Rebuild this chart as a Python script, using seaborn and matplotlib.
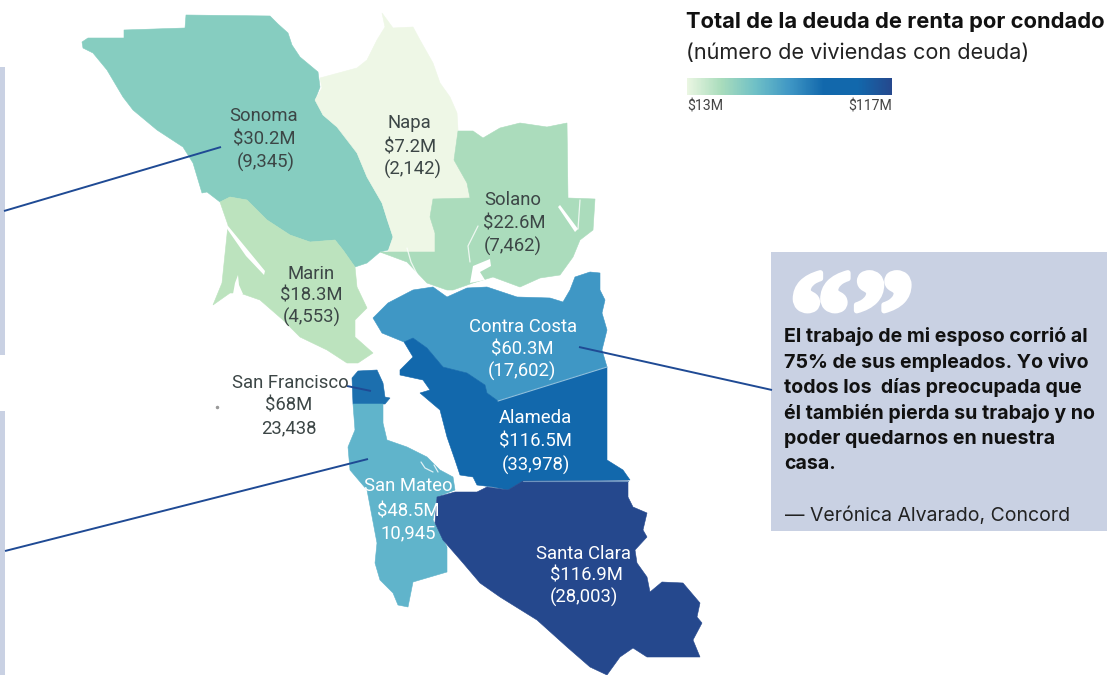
import matplotlib
matplotlib.use("Agg")
import matplotlib.pyplot as plt
import matplotlib.patheffects as pe
import numpy as np
import seaborn as sns

# datos por condado
condados = ["Sonoma", "Napa", "Solano", "Marin", "Contra Costa", "Alameda", "San Francisco", "San Mateo", "Santa Clara"]
deuda = ["$30.2M", "$7.2M", "$22.6M", "$18.3M", "$60.3M", "$116.5M", "$68M", "$48.5M", "$116.9M"]
viviendas = ["(9,345)", "(2,142)", "(7,462)", "(4,553)", "(17,602)", "(33,978)", "23,438", "10,945", "(28,003)"]
colores = ["#86CDC0", "#EEF7E6", "#ABDCBC", "#BCE3BE", "#3F97C5", "#1268AC", "#1C6FAE", "#60B4CB", "#25488D"]
rampa = ["#EAF6E2", "#A9DCBC", "#6FC0C6", "#3F97C5", "#1268AC", "#1268AC", "#25488D"]
escala = ["$13M", "$117M"]

titulo = "Total de la deuda de renta por condado"
subtitulo = "(número de viviendas con deuda)"
cita = ["El trabajo de mi esposo corrió al", "75% de sus empleados. Yo vivo", "todos los  días preocupada que",
        "él también pierda su trabajo y no", "poder quedarnos en nuestra", "casa."]
firma = "— Verónica Alvarado, Concord"

# contornos de los condados (en pixeles de la imagen)
contornos = {
    "Sonoma": [(82, 42), (88, 38), (124, 38), (124, 30), (185, 28), (186, 15), (270, 16), (278, 24), (288, 33),
               (292, 45), (300, 57), (318, 72), (320, 87), (315, 100), (323, 115), (337, 127), (347, 137), (357, 153),
               (367, 177), (382, 203), (387, 220), (393, 237), (388, 250), (380, 252), (367, 263), (355, 267),
               (343, 250), (335, 240), (310, 242), (290, 235), (267, 220), (247, 200), (230, 197), (220, 202),
               (207, 192), (202, 193), (193, 163), (183, 147), (157, 130), (133, 110), (123, 97), (107, 70),
               (93, 53), (83, 48)],
    "Napa": [(382, 13), (385, 27), (377, 40), (367, 60), (357, 68), (320, 78), (322, 88), (315, 100), (323, 115),
             (337, 127), (357, 153), (367, 177), (382, 203), (393, 237), (388, 252), (435, 252), (435, 233),
             (430, 217), (433, 199), (470, 198), (467, 183), (454, 160), (458, 130), (457, 113), (450, 97),
             (440, 83), (433, 63), (420, 40), (413, 27), (393, 28)],
    "Solano": [(433, 199), (470, 198), (467, 183), (454, 160), (458, 131), (473, 131), (483, 138), (500, 128),
               (520, 123), (547, 127), (567, 123), (568, 198), (595, 199), (593, 230), (580, 240), (573, 257),
               (560, 275), (540, 278), (520, 287), (493, 277), (473, 283), (453, 290), (447, 290), (427, 283),
               (407, 262), (380, 252), (435, 252), (435, 233), (430, 217)],
    "Marin": [(220, 202), (230, 197), (247, 200), (267, 220), (290, 235), (310, 242), (335, 240), (343, 250),
              (355, 267), (357, 287), (367, 308), (355, 320), (355, 337), (373, 353), (358, 363), (347, 363),
              (327, 350), (300, 337), (283, 320), (260, 300), (240, 293), (230, 293), (213, 305), (222, 283),
              (228, 225)],
    "Contra Costa": [(373, 318), (388, 303), (413, 290), (433, 287), (447, 297), (467, 288), (487, 287), (517, 297),
                     (550, 298), (563, 302), (570, 290), (575, 277), (590, 272), (600, 273), (600, 290), (605, 300),
                     (602, 313), (607, 330), (602, 350), (607, 367), (498, 401), (487, 393), (485, 385), (467, 373),
                     (443, 367), (427, 348), (413, 338), (404, 342), (382, 333)],
    "Alameda": [(404, 342), (413, 338), (427, 348), (443, 367), (467, 373), (485, 385), (487, 393), (498, 401),
                (607, 367), (607, 460), (623, 470), (630, 480), (523, 481), (508, 490), (493, 487), (477, 485),
                (473, 477), (460, 475), (455, 460), (447, 437), (440, 410), (420, 393), (430, 390), (423, 380),
                (400, 375), (400, 370), (413, 357)],
    "San Francisco": [(352, 378), (358, 371), (377, 370), (383, 383), (385, 397), (390, 398), (385, 404), (353, 404)],
    "San Mateo": [(353, 404), (383, 404), (383, 423), (387, 440), (407, 447), (427, 457), (440, 470), (453, 477),
                  (455, 490), (437, 497), (433, 520), (447, 547), (447, 572), (413, 582), (408, 607), (398, 605),
                  (393, 593), (380, 580), (375, 563), (377, 543), (367, 490), (350, 470), (348, 447), (355, 430)],
    "Santa Clara": [(437, 497), (455, 492), (477, 492), (487, 487), (508, 490), (523, 481), (628, 481), (628, 497),
                    (633, 507), (647, 513), (643, 530), (647, 537), (635, 550), (637, 563), (647, 577), (650, 592),
                    (662, 582), (683, 583), (700, 603), (697, 617), (702, 623), (693, 640), (700, 657), (647, 657),
                    (633, 648), (620, 657), (607, 675), (590, 667), (567, 647), (537, 620), (500, 597), (480, 583),
                    (463, 563), (443, 540), (435, 523)],
}

# agua y detalles blancos dentro de los condados
agua = [
    [(223, 223), (228, 226), (265, 271), (264, 275), (246, 256)],
    [(233, 294), (235, 283), (238, 275), (239, 285), (243, 294)],
    [(470, 283), (473, 266), (490, 259), (491, 266), (480, 272), (485, 280)],
    [(560, 205), (578, 229), (575, 232), (558, 207)],
]
riachuelos = [
    [(578, 229), (580, 200)],
    [(478, 226), (468, 246), (470, 262)],
    [(407, 248), (411, 262), (420, 280)],
    [(421, 462), (425, 468), (433, 472)],
    [(434, 465), (438, 472)],
]

# posiciones de las etiquetas (nombre, deuda, viviendas)
pos_x = [[264, 264, 266], [409, 410, 413], [513, 514, 513], [311, 311, 312], [523, 522, 522],
         [535, 535, 536], [290, 289, 289], [408, 408, 408], [583, 586, 584]]
pos_y = [[116, 140, 162], [123, 147, 169], [200, 224, 246], [274, 295, 317], [327, 350, 371],
         [418, 442, 465], [383, 406, 428], [486, 511, 533], [554, 576, 597]]
texto_blanco = ["Contra Costa", "Alameda", "San Mateo", "Santa Clara"]

lineas = [[(4, 211), (221, 147)], [(5, 551), (368, 459)], [(579, 347), (772, 390)], [(347, 386), (371, 391)]]
AZUL = "#1F4A94"
CAJA = "#C9D1E3"

sns.set_theme(style="white")
plt.rcParams["font.family"] = "Roboto"

fig = plt.figure(figsize=(11.2, 6.75), dpi=100)
ax = fig.add_axes([0, 0, 1, 1])
ax.set_xlim(0, 1120)
ax.set_ylim(675, 0)
ax.axis("off")

# cajas de cita (las de la izquierda quedan cortadas)
ax.fill_between([0, 4.5], 67, 355, color=CAJA, lw=0)
ax.fill_between([0, 5], 411, 675, color=CAJA, lw=0)
ax.fill_between([771, 1107], 252, 531, color=CAJA, lw=0)

# mapa
for nombre, color in zip(condados, colores):
    xs, ys = zip(*contornos[nombre])
    ax.fill(xs, ys, color=color, lw=0.4, ec=color, zorder=2)

for forma in agua:
    xs, ys = zip(*forma)
    ax.fill(xs, ys, color="white", lw=0, zorder=3)
for trazo in riachuelos:
    xs, ys = zip(*trazo)
    ax.plot(xs, ys, color="white", lw=0.9, alpha=0.8, zorder=3)

# borde claro entre condados
ax.plot([498, 607], [401, 367], color="#8FC0DC", lw=0.8, zorder=3)
ax.plot([523, 628], [481, 481], color="#6E93BE", lw=0.8, zorder=3)

# Farallones
ax.plot([217], [407], marker="o", ms=1.5, color="#999999", zorder=3)

for inicio, fin in lineas:
    ax.plot([inicio[0], fin[0]], [inicio[1], fin[1]], color=AZUL, lw=1.4, zorder=4, solid_capstyle="butt")

# etiquetas
for i, nombre in enumerate(condados):
    color = "white" if nombre in texto_blanco else "#3C4646"
    for texto, x, y in zip([nombre, deuda[i], viviendas[i]], pos_x[i], pos_y[i]):
        ax.text(x, y, texto, ha="center", va="center", fontsize=13.3, color=color, zorder=5)

# título y subtítulo
ax.text(686, 22, titulo, fontsize=15.8, fontweight="bold", family="Inter", color="#111111", va="center")
ax.text(686, 53, subtitulo, fontsize=15.6, family="Inter", color="#222222", va="center")

# rampa de color
eje_rampa = fig.add_axes([687 / 1120, 1 - 95 / 675, 205 / 1120, 17 / 675])
sns.heatmap(np.linspace(0, 1, 256).reshape(1, -1), cmap=sns.blend_palette(rampa, as_cmap=True),
            cbar=False, xticklabels=False, yticklabels=False, ax=eje_rampa)
ax.text(687, 107, escala[0], fontsize=10.2, color="#444444", ha="left", va="center")
ax.text(892, 107, escala[1], fontsize=10.2, color="#444444", ha="right", va="center")

# cita
comillas = ax.text(852, 356, "“”", fontsize=90, fontweight="bold", family="Liberation Serif", color="white",
                   ha="center", va="baseline", zorder=5)
comillas.set_path_effects([pe.withStroke(linewidth=4, foreground="white")])
for i, renglon in enumerate(cita):
    ax.text(784, 337 + i * 25.4, renglon, fontsize=14.1, fontweight="bold", family="Inter", color="#111111", va="center")
ax.text(785, 516, firma, fontsize=14, family="Inter", color="#222222", va="center")

fig.savefig("out.png", dpi=100)
